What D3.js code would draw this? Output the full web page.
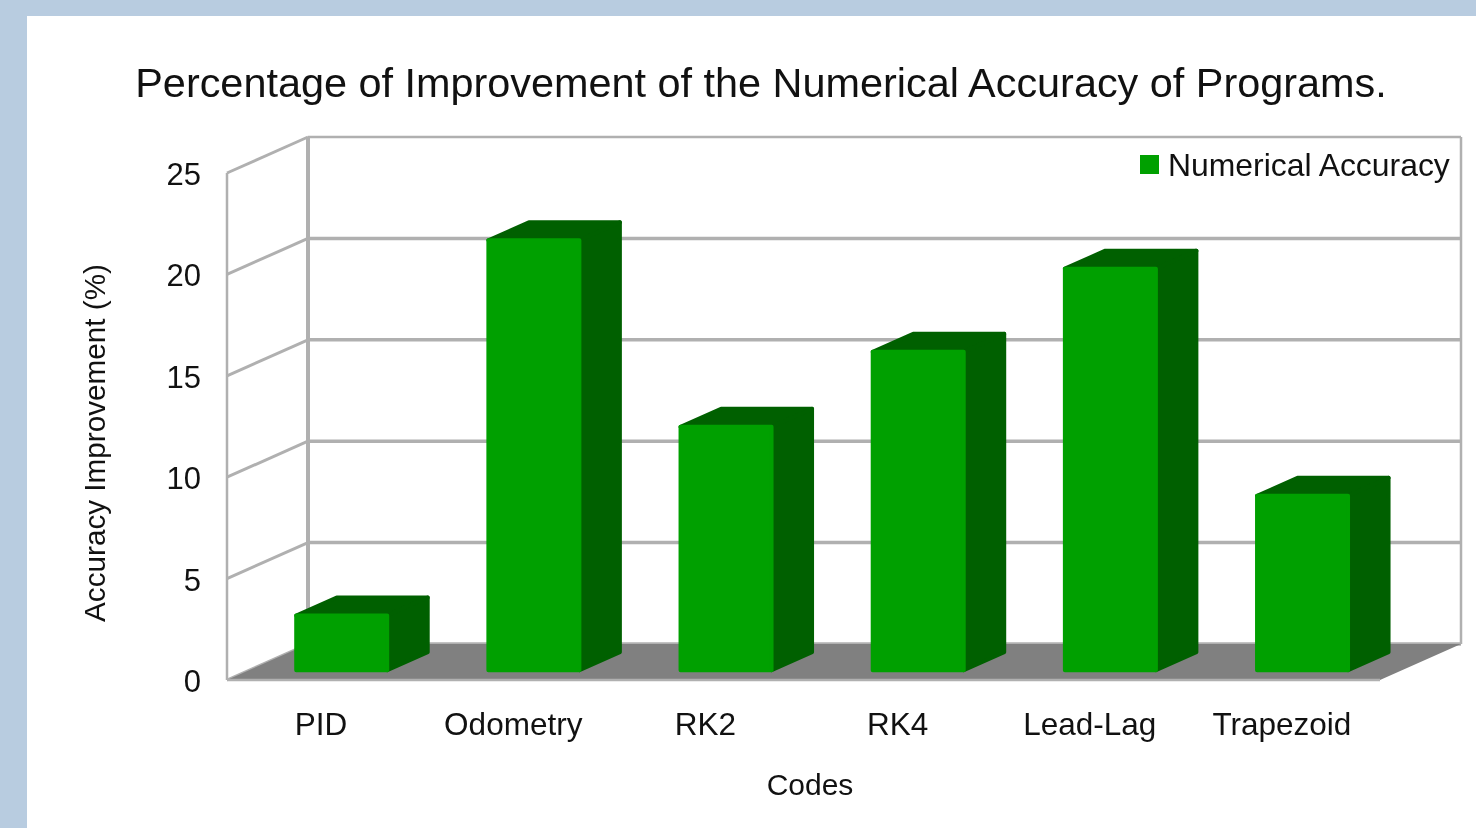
<!DOCTYPE html>
<html>
<head>
<meta charset="utf-8">
<script src="https://cdn.jsdelivr.net/npm/d3@7"></script>
<style>
    html, body { margin: 0; padding: 0; background: #b8cce0; }
    svg { display: block; filter: blur(0.7px); }
    text { font-family: "Liberation Sans", sans-serif; fill: #111111; }
</style>
</head>
<body>
<div id="chart"></div>
<script>
var categories = ["PID", "Odometry", "RK2", "RK4", "Lead-Lag", "Trapezoid"];
var accuracy = [2.7, 21.2, 12.0, 15.7, 19.8, 8.6];
var yTicks = [0, 5, 10, 15, 20, 25];
var seriesName = "Numerical Accuracy";

var svg = d3.select("#chart")
    .append("svg")
    .attr("width", 1476)
    .attr("height", 828);

// white page panel
svg.append("rect")
    .attr("x", 27).attr("y", 16)
    .attr("width", 1449).attr("height", 812)
    .attr("fill", "#ffffff");

var x = d3.scaleBand()
    .domain(categories)
    .range([227, 1380]);

var y = d3.scaleLinear()
    .domain([0, 25])
    .range([680, 173]);

// depth runs 0 (front) to 1 (back wall)
var depthX = d3.scaleLinear().domain([0, 1]).range([0, 81]);
var depthY = d3.scaleLinear().domain([0, 1]).range([0, -36]);

function pt(px, v, z) {
    return [px + depthX(z), y(v) + depthY(z)];
}

function poly(parent, points, fill, stroke, sw) {
    return parent.append("polygon")
        .attr("points", points.join(" "))
        .attr("fill", fill)
        .attr("stroke", stroke || "none")
        .attr("stroke-width", sw || 0)
        .attr("stroke-linejoin", "round");
}

var x0 = x.range()[0], x1 = x.range()[1];
var gridColor = "#b0b0b0";

function line(a, b, w) {
    svg.append("line")
        .attr("x1", a[0]).attr("y1", a[1])
        .attr("x2", b[0]).attr("y2", b[1])
        .attr("stroke", gridColor)
        .attr("stroke-width", w);
}

// gridlines on the left and back walls
yTicks.forEach(function (t) {
    line(pt(x0, t, 0), pt(x0, t, 1), 3);
    line(pt(x0, t, 1), pt(x1, t, 1), t === 25 ? 2.5 : 3.5);
});
line(pt(x0, 0, 0), pt(x0, 25, 0), 2.5);
line(pt(x0, 0, 1), pt(x0, 25, 1), 4);
line(pt(x1, 0, 1), pt(x1, 25, 1), 2.5);

// floor
poly(svg, [pt(x0, 0, 0), pt(x1, 0, 0), pt(x1, 0, 1), pt(x0, 0, 1)], "#808080");
line(pt(x0, 0, 0), pt(x1, 0, 0), 2.5);

// bars, lifted a little so the rounded stroke stops where the front edge does
var barW = 91;
var zFront = 0.23, zBack = 0.73;
var front = "#00a000", dark = "#006000";
var bars = svg.append("g").attr("transform", "translate(0,-1.5)");

categories.forEach(function (c, i) {
    var v = accuracy[i];
    var l = x(c) + x.bandwidth() / 2 - barW / 2;
    var r = l + barW;
    poly(bars, [pt(l, v, zFront), pt(r, v, zFront), pt(r, v, zBack), pt(l, v, zBack)], dark, dark, 4);
    poly(bars, [pt(r, 0, zFront), pt(r, 0, zBack), pt(r, v, zBack), pt(r, v, zFront)], dark, dark, 4);
    poly(bars, [pt(l, 0, zFront), pt(r, 0, zFront), pt(r, v, zFront), pt(l, v, zFront)], front, front, 4);
});

// axes
var yAxis = svg.append("g")
    .attr("transform", "translate(" + x0 + ",1.5)")
    .call(d3.axisLeft(y).tickValues(yTicks).tickSize(0).tickPadding(26));
yAxis.select(".domain").remove();
yAxis.selectAll("text").style("font-size", "31px").attr("font-family", null);

var xAxis = svg.append("g")
    .attr("transform", "translate(-2,680)")
    .call(d3.axisBottom(x).tickSize(0).tickPadding(33));
xAxis.select(".domain").remove();
xAxis.selectAll("text").style("font-size", "31.5px").attr("font-family", null);

// titles
svg.append("text")
    .attr("x", 761).attr("y", 97)
    .attr("text-anchor", "middle")
    .style("font-size", "41.4px")
    .text("Percentage of Improvement of the Numerical Accuracy of Programs.");

svg.append("text")
    .attr("x", 810).attr("y", 795)
    .attr("text-anchor", "middle")
    .style("font-size", "30px")
    .text("Codes");

svg.append("text")
    .attr("transform", "translate(105,443) rotate(-90)")
    .attr("text-anchor", "middle")
    .style("font-size", "29.7px")
    .text("Accuracy Improvement (%)");

// legend
svg.append("rect")
    .attr("x", 1140).attr("y", 155)
    .attr("width", 19).attr("height", 19)
    .attr("fill", front);

svg.append("text")
    .attr("x", 1168).attr("y", 176)
    .style("font-size", "31.9px")
    .text(seriesName);
</script>
</body>
</html>
